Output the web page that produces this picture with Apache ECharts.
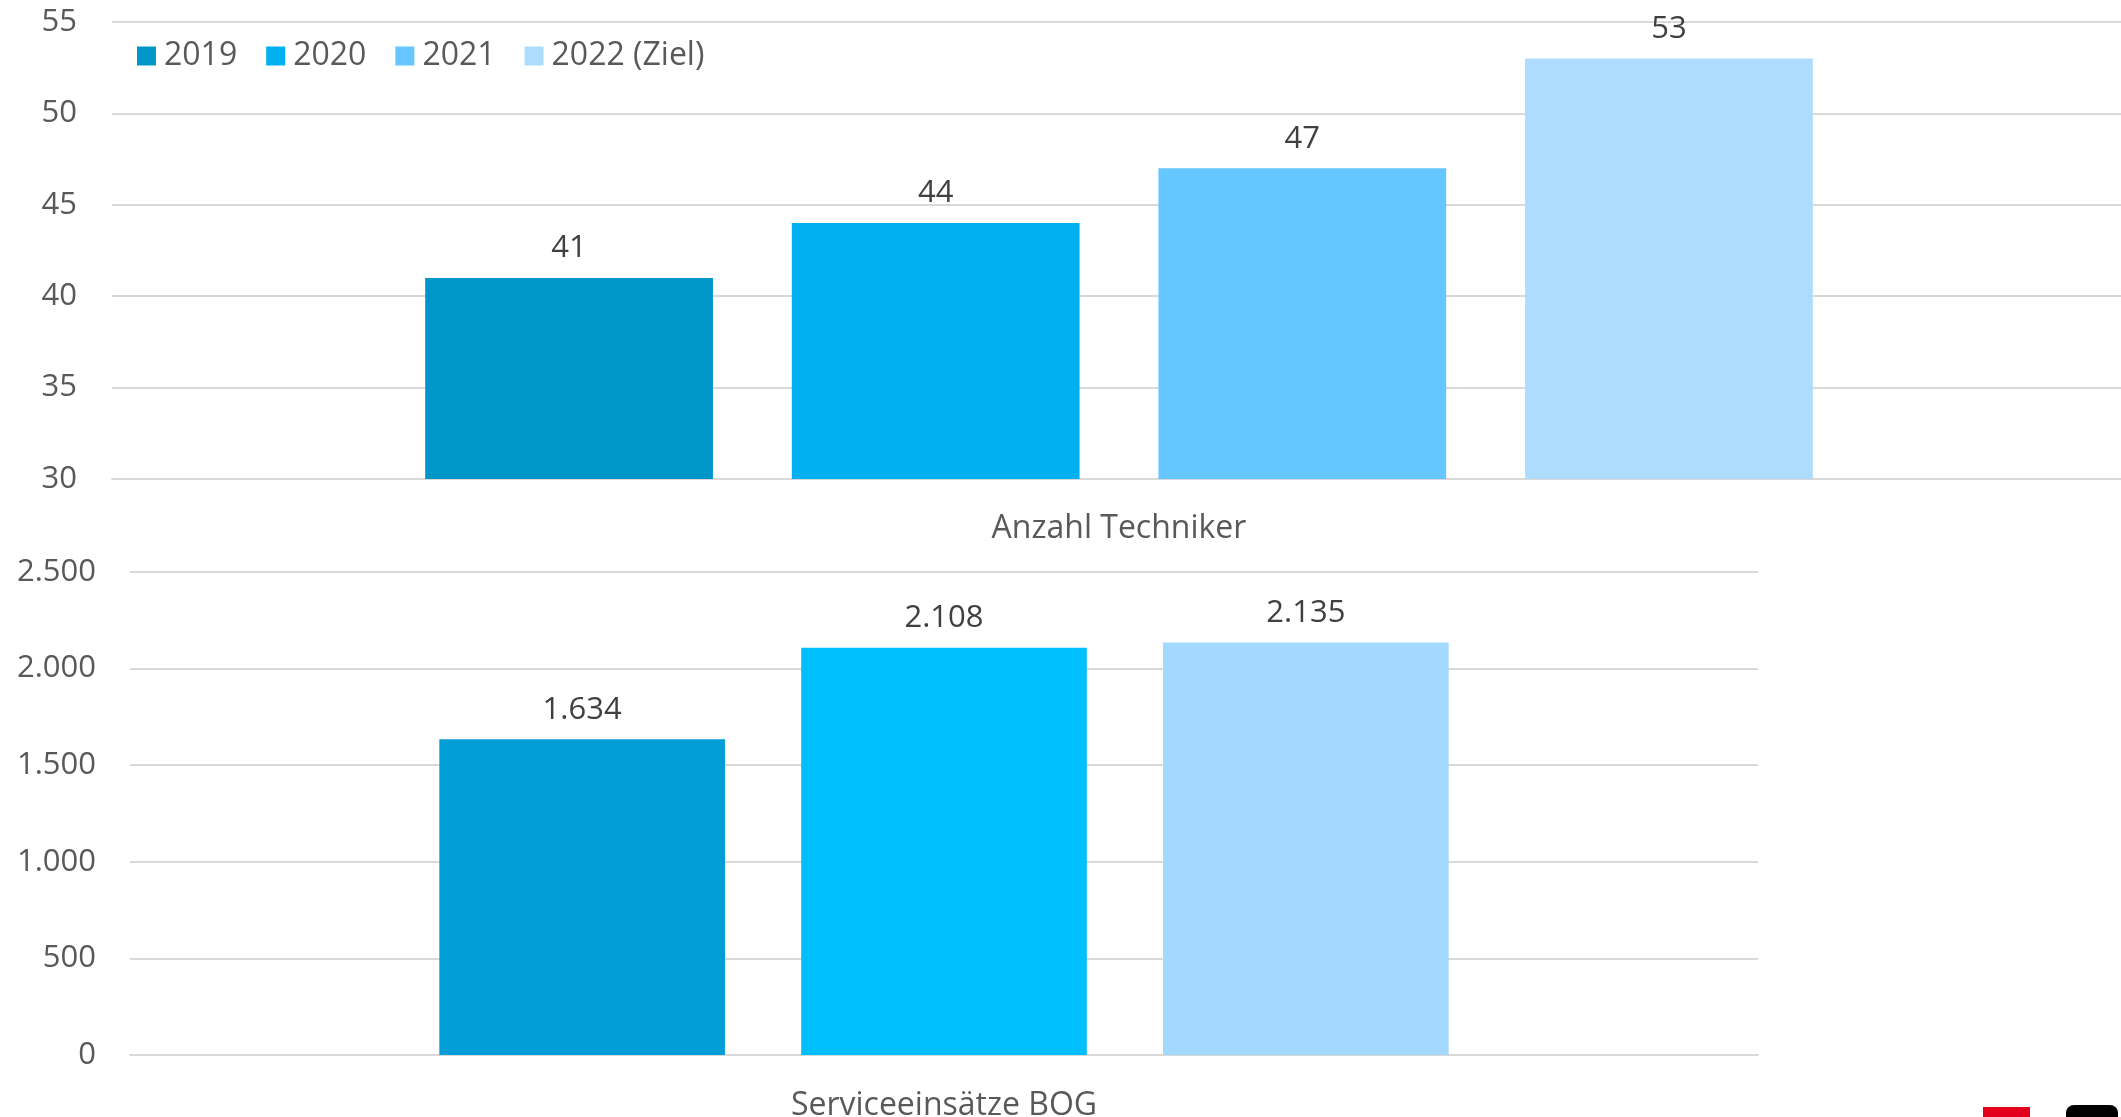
<!DOCTYPE html>
<html>
<head>
<meta charset="utf-8">
<script src="https://cdn.jsdelivr.net/npm/echarts@6/dist/echarts.min.js"></script>
<style>
  html, body { margin: 0; padding: 0; background: #fff; }
  #chart { width: 2121px; height: 1117px; }
</style>
</head>
<body>
<div id="chart"></div>
<script>
// Daten oben: Anzahl Techniker
const topCategory = ["Anzahl Techniker"];
const topYears = ["2019", "2020", "2021", "2022 (Ziel)"];
const topValues = [41, 44, 47, 53];
const topColors = ["#0096C8", "#00B0F0", "#66C6FF", "#AEDCFF"];

// Daten unten: Serviceeinsätze BOG
const bottomCategory = ["Serviceeinsätze BOG"];
const bottomYears = ["2019", "2020", "2021"];
const bottomValues = [1634, 2108, 2135];
const bottomColors = ["#009DD6", "#00BFFF", "#A3D8FF"];

const font = "'Open Sans', 'Noto Sans', sans-serif";
const gridColor = "#D9D9D9";

// deutsches Zahlenformat mit Punkt als Tausendertrenner
function fmt(v) {
  return String(v).replace(/\B(?=(\d{3})+(?!\d))/g, ".");
}

const mychart = echarts.init(document.getElementById("chart"));

const series = [];
topYears.forEach((y, i) => {
  series.push({
    name: y,
    type: "bar",
    xAxisIndex: 0,
    yAxisIndex: 0,
    data: [topValues[i]],
    itemStyle: { color: topColors[i] },
    barGap: "27.4%",
    barCategoryGap: "31.1%",
    label: {
      show: true,
      position: "top",
      distance: 14,
      color: "#404040",
      fontSize: 31,
      fontFamily: font,
    },
  });
});
bottomYears.forEach((y, i) => {
  series.push({
    name: "unten " + y,
    type: "bar",
    xAxisIndex: 1,
    yAxisIndex: 1,
    data: [bottomValues[i]],
    itemStyle: { color: bottomColors[i] },
    barGap: "26.7%",
    barCategoryGap: "38%",
    label: {
      show: true,
      position: "top",
      distance: 14,
      color: "#404040",
      fontSize: 31,
      fontFamily: font,
      formatter: (p) => fmt(p.value),
    },
  });
});

mychart.setOption({
  animation: false,
  textStyle: { fontFamily: font },
  legend: {
    data: topYears,
    left: 132,
    top: 35,
    itemWidth: 19,
    itemHeight: 19,
    itemGap: 29,
    icon: "rect",
    textStyle: { color: "#595959", fontSize: 32, fontFamily: font, padding: [0, 0, 0, 3] },
  },
  grid: [
    // rechts etwas über den Rand hinaus, damit die Balken mittig wie im Original sitzen
    { left: 112, right: -5, top: 22, height: 457, outerBoundsMode: "none" },
    { left: 130, right: 363, top: 572, height: 483, outerBoundsMode: "none" },
  ],
  xAxis: [
    {
      type: "category",
      gridIndex: 0,
      data: topCategory,
      axisLine: { lineStyle: { color: gridColor, width: 2 } },
      axisTick: { show: false },
      axisLabel: { color: "#595959", fontSize: 32, margin: 34 },
    },
    {
      type: "category",
      gridIndex: 1,
      data: bottomCategory,
      axisLine: { lineStyle: { color: gridColor, width: 2 } },
      axisTick: { show: false },
      axisLabel: { color: "#595959", fontSize: 32, margin: 35 },
    },
  ],
  yAxis: [
    {
      type: "value",
      gridIndex: 0,
      min: 30,
      max: 55,
      interval: 5,
      axisLine: { show: false },
      axisTick: { show: false },
      axisLabel: { color: "#595959", fontSize: 31, margin: 35 },
      splitLine: { lineStyle: { color: gridColor, width: 2 } },
    },
    {
      type: "value",
      gridIndex: 1,
      min: 0,
      max: 2500,
      interval: 500,
      axisLine: { show: false },
      axisTick: { show: false },
      axisLabel: { color: "#595959", fontSize: 31, margin: 34, formatter: fmt },
      splitLine: { lineStyle: { color: gridColor, width: 2 } },
    },
  ],
  series: series,
  // angeschnittenes Logo unten rechts
  graphic: [
    { type: "rect", left: 1983, top: 1107, shape: { width: 47, height: 12 }, style: { fill: "#E2001A" } },
    { type: "rect", left: 2066, top: 1105, shape: { width: 52, height: 14, r: [8, 8, 0, 0] }, style: { fill: "#000" } },
  ],
});
</script>
</body>
</html>
